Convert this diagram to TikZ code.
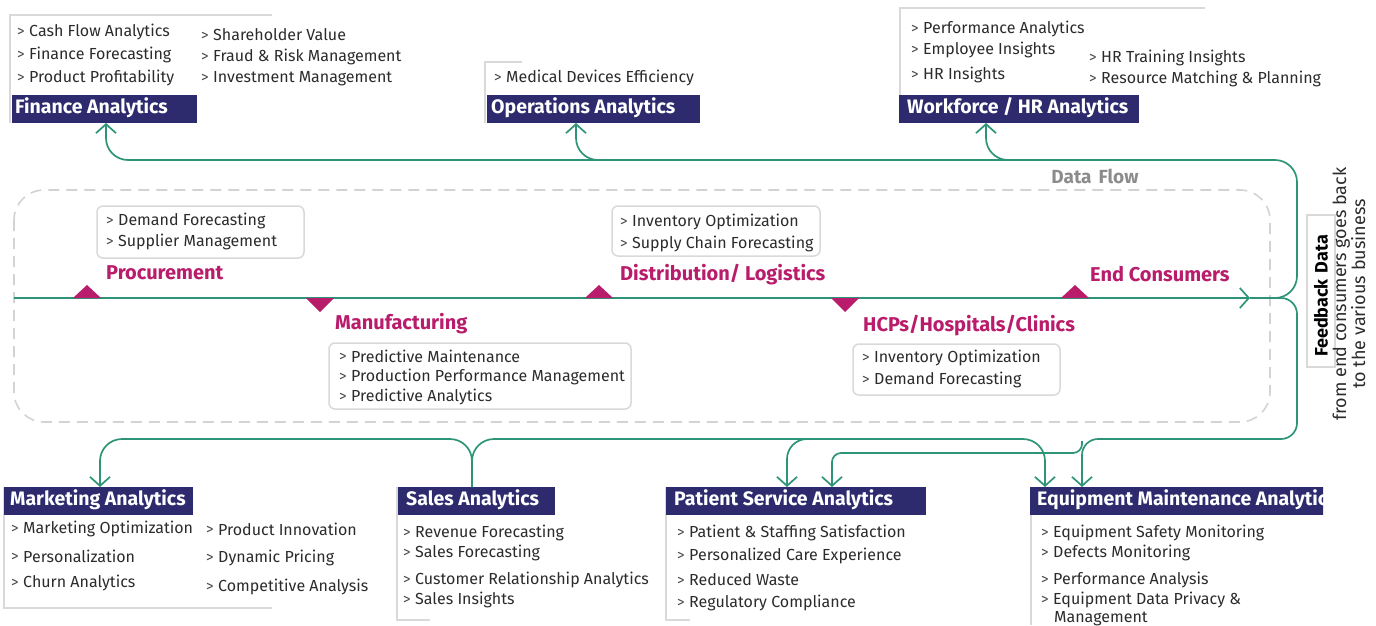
\documentclass[tikz,border=0pt]{standalone}
\usepackage{fontspec}
\setmainfont{Fira Sans}
\usetikzlibrary{arrows.meta}
\definecolor{navy}{HTML}{2D2A6E}
\definecolor{mag}{HTML}{B81C6B}
\definecolor{flowc}{HTML}{2E9477}
\definecolor{framec}{HTML}{D9D9D9}
\definecolor{dashc}{HTML}{D3D3D3}
\definecolor{dark}{HTML}{2B2B2B}
\definecolor{chevc}{HTML}{4A4A4A}
\definecolor{dfgray}{HTML}{8C8C8C}
\newcommand\chv{\textcolor{chevc}{\fontsize{15pt}{15pt}\selectfont\raisebox{0.3pt}{>}}\hspace{4.5pt}}
\newcommand\hb[2]{\makebox[#1][l]{#2}}
\begin{document}
\begin{tikzpicture}[x=1pt,y=-1pt,
  hdr/.style={fill=navy,text=white,font=\fontsize{19.5pt}{21pt}\selectfont\bfseries,anchor=north west,inner ysep=0pt,minimum height=28pt,text height=0.87em,text depth=0pt},
  item/.style={anchor=west,inner sep=0pt,font=\fontsize{16pt}{18pt}\selectfont,text=dark},
  stage/.style={anchor=west,inner sep=0pt,font=\fontsize{20pt}{22pt}\selectfont\bfseries,text=mag},
  frame/.style={draw=framec,line width=2pt},
  sbox/.style={draw=framec,line width=1.5pt,rounded corners=6pt},
  flow/.style={draw=flowc,line width=1.7pt},
  arr/.style={-{Straight Barb[length=9pt,width=20pt]}},
  tri/.style={fill=mag}
]
\useasboundingbox (0,0) rectangle (1376,625);

% ---------- dashed value-chain frame ----------
\draw[dashc,line width=1.6pt,dash pattern=on 11pt off 7pt,rounded corners=30pt] (14,190) rectangle (1270,422);
\node[font=\fontsize{19pt}{21pt}\selectfont\bfseries,text=dfgray,inner sep=0pt] (dflow) at (1095,176) {Data\hspace{7pt}Flow};

% ---------- top headers ----------
\draw[frame] (272,15) -- (10,15) -- (10,123);
\node[hdr,inner xsep=3pt] (fin) at (12,95) {\hb{179pt}{Finance Analytics}};
\node[item] (f1) at (17,32) {\chv Cash Flow Analytics};
\node[item] (f2) at (17,55) {\chv Finance Forecasting};
\node[item] (f3) at (17,78) {\chv Product Profitability};
\node[item] (f4) at (201,35) {\chv Shareholder Value};
\node[item] (f5) at (201,57) {\chv Fraud \& Risk Management};
\node[item] (f6) at (201,79) {\chv Investment Management};

\draw[frame] (522,62) -- (485,62) -- (485,123);
\node[hdr,inner xsep=4pt] (ops) at (487,95) {\hb{205pt}{Operations Analytics}};
\node[item] (o1) at (494,78) {\chv Medical Devices Efficiency};

\draw[frame] (1205,8) -- (900,8) -- (900,95);
\node[hdr,inner xsep=8pt] (hr) at (899,95) {\hb{224pt}{Workforce / HR Analytics}};
\node[item] (h1) at (911,29) {\chv Performance Analytics};
\node[item] (h2) at (911,50) {\chv Employee Insights};
\node[item] (h3) at (911,75) {\chv HR Insights};
\node[item] (h4) at (1089,58) {\chv HR Training Insights};
\node[item] (h5) at (1089,79) {\chv Resource Matching \& Planning};

% ---------- value chain ----------
\coordinate (mainL) at (14,298);
\coordinate (mainA) at (1250,298);
\coordinate (junc) at (1272,298);
\draw[flow,arr] (mainL) -- (mainA);
\draw[flow] (mainA) -- (junc);

\fill[tri] (73,298) -- (87,285) -- (101,298) -- cycle;
\fill[tri] (306,298) -- (320,312) -- (334,298) -- cycle;
\fill[tri] (585,298) -- (599,285) -- (613,298) -- cycle;
\fill[tri] (831,298) -- (845,312) -- (859,298) -- cycle;
\fill[tri] (1061,298) -- (1075,285) -- (1089,298) -- cycle;

\node[stage] (proc) at (106,273) {Procurement};
\node[stage] (manu) at (335,324) {Manufacturing};
\node[stage] (dist) at (620,275) {Distribution/ Logistics};
\node[stage] (hcp) at (863,326) {HCPs/Hospitals/Clinics};
\node[stage] (endc) at (1090,274) {End Consumers};

\draw[sbox] (97,206) rectangle (304,258);
\node[item] (p1) at (106,221) {\chv Demand Forecasting};
\node[item] (p2) at (106,242) {\chv Supplier Management};

\draw[sbox] (612,206) rectangle (820,256);
\node[item] (d1) at (620,222) {\chv Inventory Optimization};
\node[item] (d2) at (620,244) {\chv Supply Chain Forecasting};

\draw[sbox] (329,343) rectangle (631,409);
\node[item] (m1) at (339,356) {\chv Predictive Maintenance};
\node[item] (m2) at (339,377) {\chv Production Performance Management};
\node[item] (m3) at (339,397) {\chv Predictive Analytics};

\draw[sbox] (853,344) rectangle (1060,395);
\node[item] (c1) at (862,358) {\chv Inventory Optimization};
\node[item] (c2) at (862,380) {\chv Demand Forecasting};

% ---------- feedback label ----------
\draw[framec,line width=1.5pt] (1307,215) rectangle (1335,367);
\node[rotate=90,inner sep=0pt,font=\fontsize{18pt}{20pt}\selectfont\bfseries,text=black] (fbd) at (1321,296) {Feedback\hspace{6pt}Data};
\node[rotate=90,inner sep=0pt,align=center,font=\fontsize{18pt}{19pt}\selectfont,text=dark] (fbt) at (1349,294) {from end consumers goes back\\to the various business};

% ---------- bottom headers ----------
\draw[frame] (4,487) -- (4,608) -- (272,608);
\node[hdr,inner xsep=6pt] (mkt) at (4,487) {\hb{177pt}{Marketing Analytics}};
\node[item] (k1) at (11,529) {\chv Marketing Optimization};
\node[item] (k2) at (11,556) {\chv Personalization};
\node[item] (k3) at (11,583) {\chv Churn Analytics};
\node[item] (k4) at (206,529) {\chv Product Innovation};
\node[item] (k5) at (206,558) {\chv Dynamic Pricing};
\node[item] (k6) at (206,587) {\chv Competitive Analysis};

\draw[frame] (397,487) -- (397,620) -- (430,620);
\node[hdr,inner xsep=8pt] (sales) at (398,487) {\hb{141pt}{Sales Analytics}};
\node[item] (s1) at (403,533) {\chv Revenue Forecasting};
\node[item] (s2) at (403,553) {\chv Sales Forecasting};
\node[item] (s3) at (403,580) {\chv Customer Relationship Analytics};
\node[item] (s4) at (403,600) {\chv Sales Insights};

\draw[frame] (666,487) -- (666,620) -- (690,620);
\node[hdr,inner xsep=8pt] (psa) at (666,487) {\hb{244pt}{Patient Service Analytics}};
\node[item] (t1) at (677,533) {\chv Patient \& Staffing Satisfaction};
\node[item] (t2) at (677,556) {\chv Personalized Care Experience};
\node[item] (t3) at (677,580) {\chv Reduced Waste};
\node[item] (t4) at (677,603) {\chv Regulatory Compliance};

\draw[frame] (1031,487) -- (1031,625);
\begin{scope}
\clip (1030,487) rectangle (1323,515);
\node[hdr,inner xsep=7pt] (equip) at (1030,487) {\hb{340pt}{Equipment Maintenance Analytics}};
\end{scope}
\node[item] (e1) at (1041,533) {\chv Equipment Safety Monitoring};
\node[item] (e2) at (1041,553) {\chv Defects Monitoring};
\node[item] (e3) at (1041,580) {\chv Performance Analysis};
\node[item] (e4) at (1041,600) {\chv Equipment Data Privacy \&};
\node[item] (e5) at (1054,619) {Management};

% ---------- connector end points ----------
\coordinate (finIn) at (106,123);
\coordinate (opsIn) at (576,123);
\coordinate (hrIn) at (986,123);
\coordinate (mktIn) at (100,487);
\coordinate (salesOut) at (472,487);
\coordinate (psaInA) at (787,487);
\coordinate (psaInB) at (832,487);
\coordinate (eqInA) at (1045,487);
\coordinate (eqInB) at (1082,487);
\coordinate (topR) at (1297,160);
\coordinate (botR) at (1297,439);

% ---------- feedback to top headers ----------
\draw[flow,arr,rounded corners=22pt] (junc) -| (topR) -| (finIn);
\draw[flow,arr,rounded corners=22pt] (610,160) -| (opsIn);
\draw[flow,arr,rounded corners=22pt] (1020,160) -| (hrIn);

% ---------- sales to others ----------
\draw[flow,arr,rounded corners=22pt] (salesOut) |- (300,439) -| (mktIn);
\draw[flow,arr,rounded corners=22pt] (salesOut) |- (900,439) -| (eqInA);
\draw[flow,arr,rounded corners=20pt] (812,439) -| (psaInA);

% ---------- feedback to bottom headers ----------
\draw[flow,arr,rounded corners=16pt] (junc) -| (botR) -| (eqInB);
\draw[flow,arr,rounded corners=9pt] (1082,441) |- (900,453) -| (psaInB);
\end{tikzpicture}
\end{document}
